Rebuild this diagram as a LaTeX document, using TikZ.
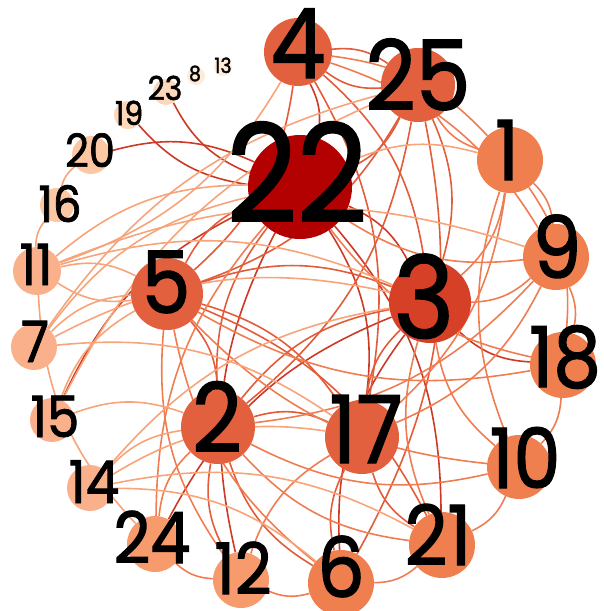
\documentclass[tikz,border=0pt]{standalone}
\usepackage{fontspec}
\setmainfont{Poppins}[FakeStretch=0.9, FakeBold=1.5]
\usetikzlibrary{backgrounds}

\definecolor{hub}{HTML}{B30000}
\definecolor{hot}{HTML}{D64027}
\definecolor{warm}{HTML}{E2603D}
\definecolor{mild}{HTML}{F07F50}
\definecolor{soft}{HTML}{F79A6C}
\definecolor{pale}{HTML}{FAB08A}
\definecolor{faint}{HTML}{FCC7A3}
\definecolor{mist}{HTML}{FDD7B9}
\definecolor{ghost}{HTML}{FEEBD9}
\definecolor{edgeD}{HTML}{CC3A26}
\definecolor{edgeM}{HTML}{E35C39}
\definecolor{edgeL}{HTML}{F07D52}
\definecolor{edgeP}{HTML}{F8A47B}

\begin{document}
\begin{tikzpicture}[x=1pt, y=-1pt,
  vert/.style={circle, inner sep=0pt, draw=none},
  lab/.style={inner sep=0pt, anchor=base, text depth=0pt, text=black},
  eD/.style={draw=edgeD, line width=1.6pt},
  eM/.style={draw=edgeM, line width=1.6pt},
  eL/.style={draw=edgeL, line width=1.6pt},
  eP/.style={draw=edgeP, line width=1.6pt}]
\useasboundingbox (0,0) rectangle (603,611);

% vertices: name/x/y/radius/colour
\foreach \n/\x/\y/\r/\c in {
  22/300/187/52/hub, 3/430/302/41/hot,
  4/298/52/34/warm, 25/418/85/37/warm, 5/167/294/36/warm,
  2/218/427/37/warm, 17/362/437/37/warm,
  1/510/160/33/mild, 9/556/257/33/mild, 18/563/365/33/mild,
  10/519/467/32/mild, 21/442/545/33/mild, 6/341/583/33/mild,
  12/241/580/28/soft, 24/155/544/28/soft,
  14/90/488/23/pale, 15/52/420/22/pale, 7/34/347/23/pale, 11/37/271/24/pale,
  16/57/205/17/faint, 20/91/155/19/faint,
  19/128/115/14/mist, 23/166/92/13/mist,
  8/196/76/9/ghost, 13/223/67/9/ghost}
  \node[vert, minimum size=2*\r pt, fill=\c] (n\n) at (\x,\y) {};

% edges
\begin{pgfonlayer}{background}
\foreach \a/\b in {20/22, 22/19, 22/23, 22/3, 22/17, 4/22, 18/3, 24/3,
  15/22, 12/22, 22/21, 6/3}
  \draw[eD] (n\a) to[bend left=20] (n\b);
\foreach \a/\b in {4/25, 25/4, 4/3, 4/17, 4/5, 25/22, 25/3, 25/6, 25/2,
  5/22, 5/2, 5/17, 5/21, 5/3, 2/17, 2/3, 2/22, 17/3, 21/17, 12/2, 6/17,
  6/2, 25/5}
  \draw[eM] (n\a) to[bend left=20] (n\b);
\foreach \a/\b in {1/25, 1/9, 1/18, 1/3, 1/17, 10/1, 9/18, 9/3, 9/22,
  9/2, 9/17, 18/10, 18/5, 18/22, 10/21, 10/5, 10/3, 10/2, 21/2, 21/6,
  21/3, 6/12, 6/5, 12/24, 12/17, 12/5, 24/2, 24/22, 4/9, 4/1}
  \draw[eL] (n\a) to[bend left=20] (n\b);
\foreach \a/\b in {22/1, 11/16, 16/20, 24/11, 11/5, 5/11, 11/22, 11/3,
  11/9, 7/5, 7/3, 7/25, 7/17, 7/22, 15/5, 15/25, 15/2, 14/2, 14/17,
  14/21, 14/3, 4/11, 14/6}
  \draw[eP] (n\a) to[bend left=20] (n\b);
\end{pgfonlayer}

% labels: name/x/baseline/size
\foreach \n/\x/\y/\s in {
  22/297/222/136, 3/424/338/114, 4/298/78/97, 25/418/110/97,
  5/166/313/86, 2/217/452/96, 17/366/463/94,
  1/507/180/83, 9/557/278/86, 18/565/387/84, 10/525/488/83,
  21/438/565/83, 6/341/597/83, 12/243/594/71, 24/152/563/71,
  14/94/503/59, 15/55/437/57, 7/35/362/57, 11/36/285/57,
  16/60/222/50, 20/90/167/46, 19/129/125/33, 23/165/100/33,
  8/195/81/21, 13/223/73/21}
  \node[lab, font=\fontsize{\s}{\s}\selectfont] (l\n) at (\x,\y) {\n};
\end{tikzpicture}
\end{document}
